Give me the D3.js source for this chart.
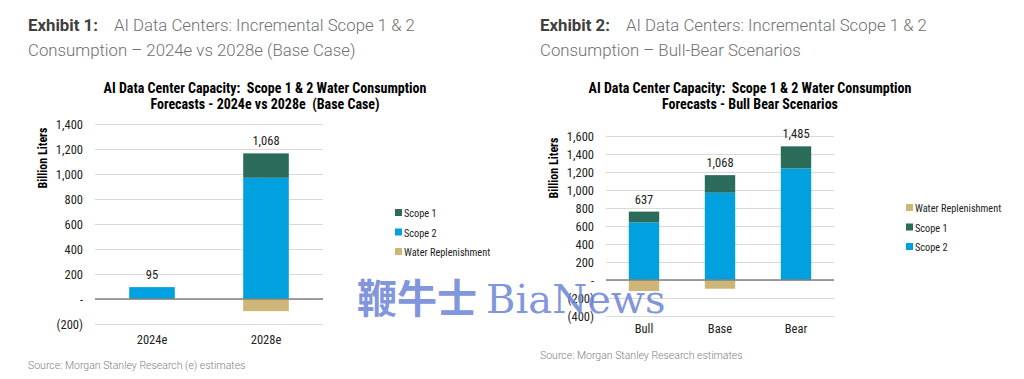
<!DOCTYPE html>
<html><head><meta charset="utf-8">
<script src="https://cdn.jsdelivr.net/npm/d3@7"></script>
<style>
body{margin:0;background:#fff;}
svg{display:block;}
text{white-space:pre;}
.cond{font-family:"Liberation Sans Narrow","Roboto Condensed",Roboto,sans-serif;}
</style></head><body>
<svg id="c" width="1024" height="379"></svg>
<script>
// ---- data ----
const cats1 = ["2024e", "2028e"];
const scope2_1 = [95, 970];
const scope1_1 = [0, 195];
const water_1 = [0, -97];
const totals1 = ["95", "1,068"];
const ticks1 = [-200, 0, 200, 400, 600, 800, 1000, 1200, 1400];

const cats2 = ["Bull", "Base", "Bear"];
const scope2_2 = [640, 970, 1240];
const scope1_2 = [120, 195, 245];
const water_2 = [-123, -97, 0];
const totals2 = ["637", "1,068", "1,485"];
const ticks2 = [-400, -200, 0, 200, 400, 600, 800, 1000, 1200, 1400, 1600];

const legend1 = ["Scope 1", "Scope 2", "Water Replenishment"];
const legend2 = ["Water Replenishment", "Scope 1", "Scope 2"];
const colors = {"Scope 1": "#2a6b59", "Scope 2": "#00a1de", "Water Replenishment": "#cdb677"};

const svg = d3.select("#c");
const fmt = v => v === 0 ? "-" : (v < 0 ? "(" + d3.format(",")(-v) + ")" : d3.format(",")(v));

function exhibit(x, num, line2, line1rest){
  const t = svg.append("text").attr("x", x).attr("y", 31).attr("font-family","Roboto, sans-serif").attr("font-size", 16.8);
  t.append("tspan").attr("font-weight","bold").attr("fill","#404040").text("Exhibit " + num + ":");
  t.append("tspan").attr("dx", 16).attr("fill","#707070").attr("font-weight","300").text(line1rest);
  svg.append("text").attr("x", x).attr("y", 56).attr("font-family","Roboto, sans-serif").attr("font-size", 16.8)
    .attr("fill","#707070").attr("font-weight","300").text(line2);
}

function chart(cfg){
  const y = d3.scaleLinear().domain(cfg.domain).range(cfg.yrange);
  const x = d3.scaleBand().domain(cfg.cats).range(cfg.xrange).paddingInner(cfg.pad).paddingOuter(cfg.pad/2);
  const g = svg.append("g");
  // title
  cfg.title.forEach((l, i) => {
    g.append("text").attr("class","cond").attr("x", cfg.titleX).attr("y", cfg.titleY + i*16)
      .attr("text-anchor","middle").attr("font-weight","bold").attr("font-size", 14).attr("fill","#000").text(l);
  });
  // grid
  const ax = d3.axisLeft(y).tickValues(cfg.ticks).tickSize(-(cfg.xrange[1]-cfg.xrange[0])).tickFormat(fmt).tickPadding(cfg.tickPad);
  const ag = g.append("g").attr("transform", `translate(${cfg.xrange[0]},0)`).call(ax);
  ag.select(".domain").remove();
  ag.selectAll(".tick line").attr("stroke", "#d9d9d9").attr("stroke-width", 1);
  ag.selectAll(".tick text").attr("class","cond").attr("font-size", 12.5).attr("fill","#222");
  // y label
  g.append("text").attr("class","cond").attr("transform", `translate(${cfg.ylabX},${cfg.ylabY}) rotate(-90)`)
    .attr("text-anchor","middle").attr("font-weight","bold").attr("font-size", 12).text("Billion Liters");
  // bars
  const bw = x.bandwidth();
  cfg.cats.forEach((c, i) => {
    const s2 = cfg.s2[i], s1 = cfg.s1[i], w = cfg.w[i];
    if (w < 0) g.append("rect").attr("x", x(c)).attr("width", bw).attr("y", y(0)).attr("height", y(w) - y(0)).attr("fill", colors["Water Replenishment"]);
    g.append("rect").attr("x", x(c)).attr("width", bw).attr("y", y(s2)).attr("height", y(0) - y(s2)).attr("fill", colors["Scope 2"]);
    if (s1 > 0) g.append("rect").attr("x", x(c)).attr("width", bw).attr("y", y(s2 + s1)).attr("height", y(s2) - y(s2 + s1)).attr("fill", colors["Scope 1"]);
    g.append("text").attr("class","cond").attr("x", x(c) + bw/2).attr("y", y(s2 + s1) - 8).attr("text-anchor","middle")
      .attr("font-size", 12.5).attr("fill","#222").text(cfg.totals[i]);
    g.append("text").attr("class","cond").attr("x", x(c) + bw/2).attr("y", cfg.catY).attr("text-anchor","middle")
      .attr("font-size", 12.5).attr("fill","#222").text(c);
  });
  // zero line
  g.append("line").attr("x1", cfg.xrange[0]).attr("x2", cfg.xrange[1]).attr("y1", y(0)).attr("y2", y(0)).attr("stroke","#808080").attr("stroke-width",1.5);
  // legend
  cfg.legend.forEach((l, i) => {
    const ly = cfg.legY + i*19.5;
    g.append("rect").attr("x", cfg.legX).attr("y", ly - 4).attr("width", 7).attr("height", 7).attr("fill", colors[l]);
    g.append("text").attr("class","cond").attr("x", cfg.legX + 9).attr("y", ly + 4).attr("font-size", 10.3).attr("fill","#222").text(l);
  });
  // source
  svg.append("text").attr("x", cfg.srcX).attr("y", cfg.srcY).attr("font-family","Roboto, sans-serif").attr("font-size", 10.5)
    .attr("fill","#808080").attr("font-weight","300").text(cfg.source);
}

exhibit(28, 1, "Consumption \u2013 2024e vs 2028e (Base Case)", "AI Data Centers: Incremental Scope 1 & 2");
exhibit(540, 2, "Consumption \u2013 Bull-Bear Scenarios", "AI Data Centers: Incremental Scope 1 & 2");

chart({cats: cats1, s2: scope2_1, s1: scope1_1, w: water_1, totals: totals1, ticks: ticks1,
  domain: [-200, 1400], yrange: [324, 124], xrange: [95, 323], pad: 0.6, tickPad: 12,
  title: ["AI Data Center Capacity:  Scope 1 & 2 Water Consumption", "Forecasts - 2024e vs 2028e  (Base Case)"],
  titleX: 265, titleY: 93, ylabX: 47, ylabY: 158, catY: 344, legend: legend1, legX: 395, legY: 213,
  source: "Source: Morgan Stanley Research (e) estimates", srcX: 28, srcY: 369});

chart({cats: cats2, s2: scope2_2, s1: scope1_2, w: water_2, totals: totals2, ticks: ticks2,
  domain: [-400, 1600], yrange: [316, 136], xrange: [606, 834], pad: 0.6, tickPad: 12,
  title: ["AI Data Center Capacity:  Scope 1 & 2 Water Consumption", "Forecasts - Bull Bear Scenarios"],
  titleX: 750, titleY: 93, ylabX: 558, ylabY: 168, catY: 333, legend: legend2, legX: 906, legY: 208,
  source: "Source: Morgan Stanley Research estimates", srcX: 540, srcY: 359});

// watermark
const wm = svg.append("text").attr("x", 357).attr("y", 313).attr("font-size", 40).attr("fill", "#6f87d8").attr("fill-opacity", 0.9);
wm.append("tspan").attr("font-family", "'Noto Sans CJK SC', sans-serif").attr("font-weight","bold").text("鞭牛士 ");
wm.append("tspan").attr("font-family", "'DejaVu Serif', 'Liberation Serif', serif").text("BiaNews");
</script></body></html>
